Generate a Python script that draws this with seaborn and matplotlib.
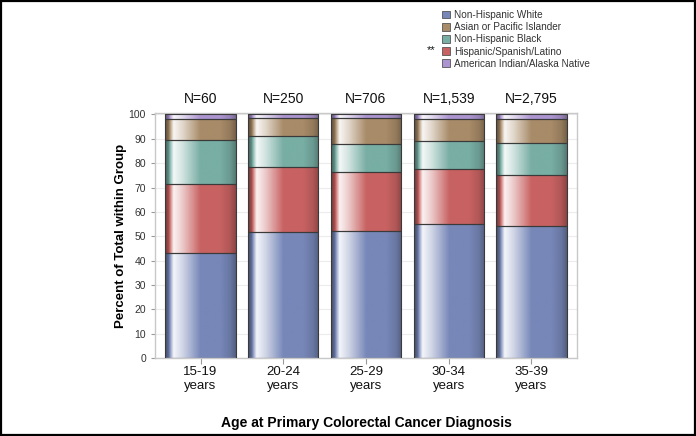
import numpy as np
import pandas as pd
import matplotlib
matplotlib.use("Agg")
import matplotlib.pyplot as plt
import matplotlib.colors as mcolors
from matplotlib.patches import Patch, Rectangle
import seaborn as sns

# data (percent within age group)
ages = ["15-19\nyears", "20-24\nyears", "25-29\nyears", "30-34\nyears", "35-39\nyears"]
n_labels = ["N=60", "N=250", "N=706", "N=1,539", "N=2,795"]
white = [43.1, 51.7, 52.1, 55.2, 54.4]
hispanic = [28.2, 26.8, 24.4, 22.4, 20.8]
black = [18.3, 12.8, 11.4, 11.7, 13.2]
asian = [8.5, 7.3, 10.5, 8.9, 9.8]
aian = [1.9, 1.4, 1.6, 1.8, 1.8]

# stacking order bottom -> top
stack_names = ["Non-Hispanic White", "Hispanic/Spanish/Latino", "Non-Hispanic Black",
               "Asian or Pacific Islander", "American Indian/Alaska Native"]
stack_vals = [white, hispanic, black, asian, aian]
colors = {"Non-Hispanic White": "#7787b8",
          "Hispanic/Spanish/Latino": "#c86262",
          "Non-Hispanic Black": "#78aea4",
          "Asian or Pacific Islander": "#a88b68",
          "American Indian/Alaska Native": "#ab94cf"}
legend_order = ["Non-Hispanic White", "Asian or Pacific Islander", "Non-Hispanic Black",
                "Hispanic/Spanish/Latino", "American Indian/Alaska Native"]

plt.rcParams['font.family'] = ['Liberation Sans', 'DejaVu Sans']

fig = plt.figure(figsize=(6.96, 4.36), dpi=100)
ax = fig.add_axes([155 / 696, 1 - 358 / 436, 422 / 696, 245 / 436])


def shade(base, n=200):
    # horizontal "cylinder" shading like SAS gradient bars
    t = np.linspace(0, 1, n)
    f = np.interp(t, [0, 0.05, 0.12, 0.25, 0.5, 0.78, 0.92, 1.0],
                  [-0.45, -0.2, 0.92, 0.65, 0.0, 0.0, -0.12, -0.3])
    rgb = np.array(mcolors.to_rgb(base))
    out = np.zeros((1, n, 4))
    for i, v in enumerate(f):
        if v >= 0:
            c = rgb + (1 - rgb) * v
        else:
            c = rgb * (1 + v)
        out[0, i, :3] = c
        out[0, i, 3] = 1
    return out


bottom = np.zeros(len(ages))
for name, vals in zip(stack_names, stack_vals):
    df = pd.DataFrame({"age": ages, "pct": vals})
    n_before = len(ax.patches)
    sns.barplot(data=df, x="age", y="pct", order=ages, bottom=bottom, width=0.85,
                color=colors[name], edgecolor="#3a3a3a", linewidth=0.8, ax=ax,
                errorbar=None, zorder=3)
    for p in ax.patches[n_before:]:
        x0, y0 = p.get_x(), p.get_y()
        w, h = p.get_width(), p.get_height()
        im = ax.imshow(shade(colors[name]), extent=[x0, x0 + w, y0, y0 + h],
                       aspect="auto", zorder=2, interpolation="bilinear")
        im.set_clip_path(p)
        p.set_facecolor("none")
    bottom = bottom + np.array(vals)

ax.set_xlim(-0.55, 4.55)
ax.set_ylim(0, 100.6)
ax.set_yticks(range(0, 101, 10))
ax.yaxis.grid(True, color="#ececec", lw=0.8, zorder=0)
ax.set_axisbelow(True)
for s in ax.spines.values():
    s.set_color("#c8c8c8")
    s.set_linewidth(1)
ax.tick_params(axis="y", labelsize=7.5, colors="#9a9a9a", labelcolor="#333333", length=3)
ax.tick_params(axis="x", labelsize=9.5, colors="#9a9a9a", labelcolor="#111111", length=4, pad=2)
ax.set_xlabel("Age at Primary Colorectal Cancer Diagnosis", fontsize=10, fontweight="bold", labelpad=17)
ax.set_ylabel("Percent of Total within Group", fontsize=9.5, fontweight="bold", labelpad=1)

for i, lab in enumerate(n_labels):
    ax.text(i, 103.5, lab, ha="center", va="bottom", fontsize=10, color="#111111")

handles = [Patch(facecolor=colors[k], edgecolor="#555555", linewidth=0.6) for k in legend_order]
fig.legend(handles, legend_order, loc="upper left", bbox_to_anchor=(433 / 696, 1 - 1 / 436),
           frameon=False, fontsize=7.2, handlelength=0.8, handleheight=0.8,
           labelspacing=0.22, handletextpad=0.4, labelcolor="#333333")
fig.text(427 / 696, 1 - 50 / 436, "**", fontsize=8, ha="left", va="center", color="#111111")

fig.add_artist(Rectangle((0.001, 0.002), 0.997, 0.996, transform=fig.transFigure,
                         fill=False, edgecolor="black", linewidth=1.6))

fig.savefig("out.png", dpi=100)
